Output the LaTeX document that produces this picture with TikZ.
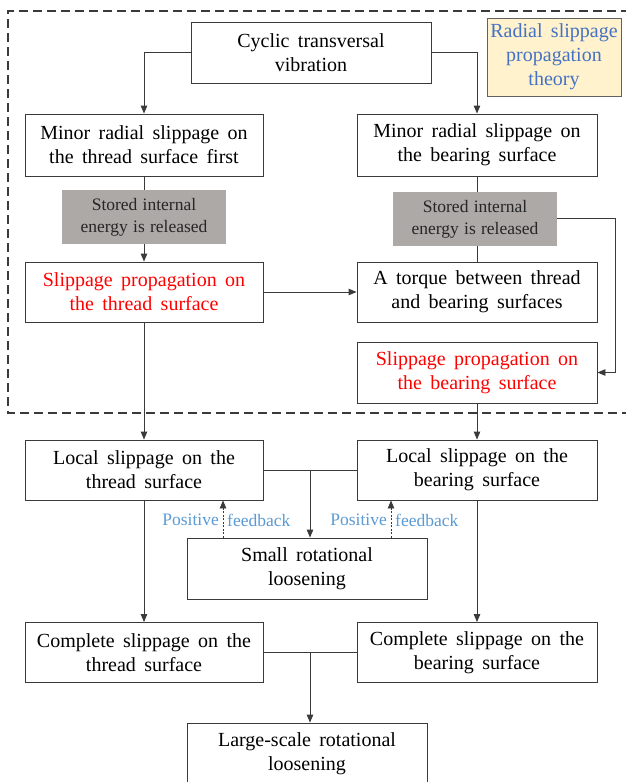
\documentclass[tikz,border=0pt]{standalone}
\usepackage{fontspec}
\setmainfont{Liberation Serif}
\usetikzlibrary{arrows.meta,calc}
\definecolor{lineg}{HTML}{3A3A3A}
\definecolor{grayfill}{HTML}{ADA9A7}
\definecolor{yelfill}{HTML}{FFF2CC}
\definecolor{bluetxt}{HTML}{4472C4}
\definecolor{fbblue}{HTML}{5B9BD5}
\definecolor{redtxt}{HTML}{FF0000}
\newcommand{\mainfnt}{\fontsize{20}{24}\selectfont\spaceskip=0.42em plus 0.1em\relax}
\newcommand{\grayfnt}{\fontsize{17.5}{22}\selectfont\spaceskip=0.3em\relax}
\begin{document}
\begin{tikzpicture}[x=1pt,y=-1pt,
  box/.style={draw=lineg, line width=0.9pt, fill=white, inner sep=0pt, align=center,
    font=\mainfnt},
  graybox/.style={fill=grayfill, inner sep=0pt, align=center, text=black!85,
    font=\grayfnt, minimum width=164pt, minimum height=54pt},
  conn/.style={draw=lineg, line width=0.9pt},
  arr/.style={conn, -{Triangle[length=8pt,width=6.5pt]}},
  fb/.style={draw=lineg, line width=0.7pt, dash pattern=on 2pt off 1.5pt, -{Triangle[length=8pt,width=6.5pt]}},
  fbtext/.style={text=fbblue, inner sep=0pt, font=\fontsize{17.5}{20}\selectfont},
  red/.style={text=redtxt}
]
\useasboundingbox (0,0) rectangle (625,782);
\fill[white] (0,0) rectangle (625,782);

% dashed frame
\draw[draw=lineg, line width=1.4pt, dash pattern=on 9pt off 5pt] (630,11) -- (8,11) -- (8,413) -- (630,413);

% nodes
\node[box, minimum width=240pt, minimum height=61pt] (cyc) at (311,52.5) {Cyclic transversal\\vibration};
\node[draw=lineg!80, line width=0.8pt, fill=yelfill, inner sep=0pt, align=center, text=bluetxt,
  font=\mainfnt, minimum width=134pt, minimum height=78pt] (yel) at (554,57) {Radial slippage\\propagation\\theory};

\node[box, minimum width=238pt, minimum height=62pt] (minL) at (144,145) {Minor radial slippage on\\the thread surface first};
\node[box, minimum width=240pt, minimum height=62pt] (minR) at (477,145) {Minor radial slippage on\\the bearing surface};

\node[graybox] (grayL) at (144,217) {Stored internal\\energy is released};
\node[graybox] (grayR) at (475,219) {Stored internal\\energy is released};

\node[box, red, minimum width=238pt, minimum height=60pt] (slipL) at (144,292) {Slippage propagation on\\the thread surface};
\node[box, minimum width=240pt, minimum height=60pt] (torq) at (477,292) {A torque between thread\\and bearing surfaces};
\node[box, red, minimum width=240pt, minimum height=61pt] (slipR) at (477,372.5) {Slippage propagation on\\the bearing surface};

\node[box, minimum width=238pt, minimum height=60pt] (locL) at (144,470) {Local slippage on the\\thread surface};
\node[box, minimum width=240pt, minimum height=60pt] (locR) at (477,470) {Local slippage on the\\bearing surface};

\node[box, minimum width=240pt, minimum height=61pt] (small) at (307,568.5) {Small rotational\\loosening};

\node[box, minimum width=238pt, minimum height=60pt] (compL) at (144,652.5) {Complete slippage on the\\thread surface};
\node[box, minimum width=240pt, minimum height=60pt] (compR) at (477,652.5) {Complete slippage on the\\bearing surface};

\node[box, minimum width=240pt, minimum height=62pt] (large) at (307,754) {Large-scale rotational\\loosening};

% connectors top
\draw[arr] (cyc.west) -| (minL.north);
\draw[arr] (cyc.east) -| (minR.north);
\draw[conn] (minL.south) -- (grayL.north);
\draw[arr] (grayL.south) -- (slipL.north);
\draw[conn] (minR.south) -- (minR.south |- grayR.north);
\draw[conn] (minR.south |- grayR.south) -- (torq.north);
\coordinate (rt) at (615,0);
\draw[arr] (grayR.east |- 0,218) -- (rt |- 0,218) -- (rt |- slipR.east) -- (slipR.east);
\draw[arr] (slipL.east) -- (torq.west);

% to local
\draw[arr] (slipL.south) -- (locL.north);
\draw[arr] (slipR.south) -- (locR.north);

% local to small
\draw[conn] (locL.east) -- (locR.west);
\coordinate (midL) at ($(locL.east)!0.5!(locR.west)$);
\draw[arr] (midL) -- (midL |- small.north);

% positive feedback
\coordinate (fbL) at (223,0);
\coordinate (fbR) at (391,0);
\draw[fb] (small.north -| fbL) -- (locL.south -| fbL);
\draw[fb] (small.north -| fbR) -- (locR.south -| fbR);
\node[fbtext, anchor=east] (pL) at (219,520) {Positive};
\node[fbtext, anchor=west] (fL) at (227,520) {feedback};
\node[fbtext, anchor=east] (pR) at (387,520) {Positive};
\node[fbtext, anchor=west] (fR) at (395,520) {feedback};

% local to complete
\draw[arr] (locL.south) -- (compL.north);
\draw[arr] (locR.south) -- (compR.north);

% complete to large
\draw[conn] (compL.east) -- (compR.west);
\coordinate (midC) at ($(compL.east)!0.5!(compR.west)$);
\draw[arr] (midC) -- (midC |- large.north);
\end{tikzpicture}
\end{document}
